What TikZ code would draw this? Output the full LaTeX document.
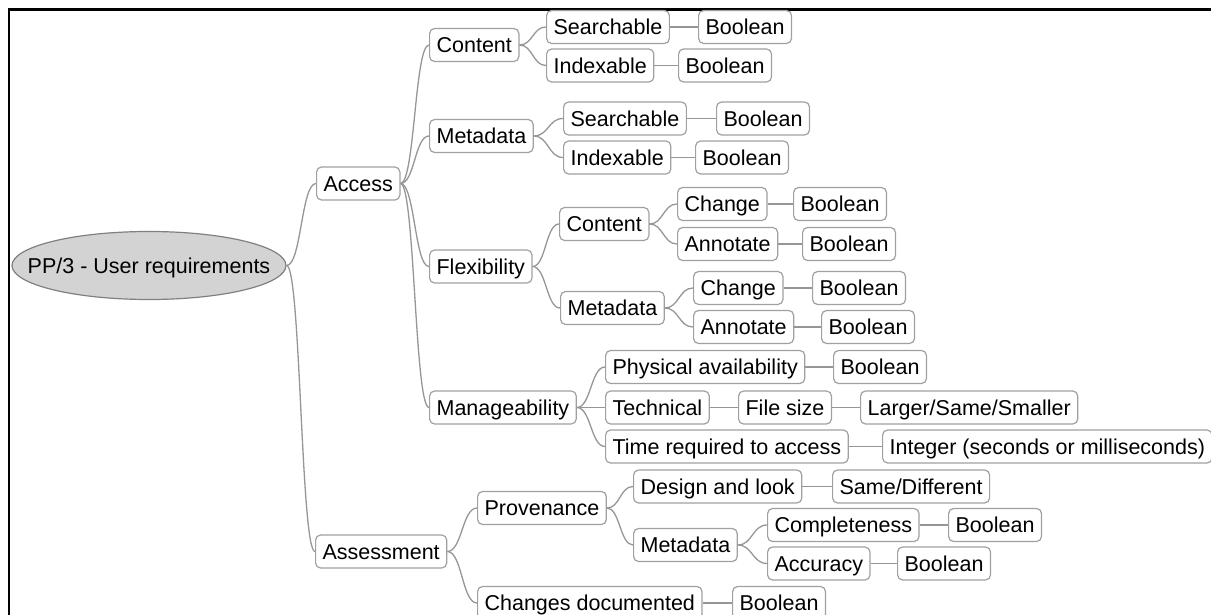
\documentclass[tikz,border=0pt]{standalone}
\usepackage{fontspec}
\setmainfont{Liberation Sans}
\usetikzlibrary{calc,shapes.geometric}
\definecolor{edgegray}{RGB}{150,150,150}
\definecolor{boxgray}{RGB}{160,160,160}
\definecolor{rootfill}{RGB}{211,211,211}
\begin{document}
\begin{tikzpicture}[x=1pt,y=-1pt,
  mm/.style={draw=boxgray,line width=1.2pt,fill=white,rounded corners=5pt,
    anchor=west,inner xsep=7pt,inner ysep=0pt,minimum height=33pt,
    text height=15.5pt,text depth=0pt,font=\fontsize{21.5}{24}\selectfont},
  rootnode/.style={ellipse,draw=gray,line width=1.2pt,fill=rootfill,
    minimum width=274pt,minimum height=68pt,inner sep=0pt},
  rootlabel/.style={inner sep=0pt,text height=15.5pt,text depth=0pt,
    font=\fontsize{21.5}{24}\selectfont},
  link/.style={draw=edgegray,line width=1.3pt},
  frame/.style={line width=2.4pt,black}]
\useasboundingbox (0,0) rectangle (1211,615);
\newcommand\mmlink[2]{\draw[link] let \p1=(#1.east), \p2=(#2.west) in
  (\p1) .. controls ({0.5*\x1+0.5*\x2},\y1) and ({0.5*\x1+0.5*\x2},\y2) .. (\p2);}
\newcommand\mmline[2]{\draw[link] (#1.east) -- (#2.west);}

% frame
\coordinate (fa) at (9,615);
\coordinate (fb) at (9,9.5);
\coordinate (fc) at (1211,9.5);
\draw[frame] (fa) -- (fb) -- (fc);

% nodes
\node[rootnode] (root) at (149,265.5) {};
\node[rootlabel] (rootlbl) at (root.center) {PP/3 - User requirements};
\node[mm] (access) at (316,183.5) {Access};
\node[mm] (assess) at (315,551.5) {Assessment};

\node[mm] (acont) at (429,45) {Content};
\node[mm] (ameta) at (429,136) {Metadata};
\node[mm] (aflex) at (429,266.5) {Flexibility};
\node[mm] (amanage) at (429,407.5) {Manageability};

\node[mm] (csearch) at (546,27) {Searchable};
\node[mm] (csearchb) at (698,27) {Boolean};
\node[mm] (cindex) at (546,65.5) {Indexable};
\node[mm] (cindexb) at (678,65.5) {Boolean};

\node[mm] (msearch) at (563,118.5) {Searchable};
\node[mm] (msearchb) at (716,118.5) {Boolean};
\node[mm] (mindex) at (563,157.5) {Indexable};
\node[mm] (mindexb) at (695,157.5) {Boolean};

\node[mm] (fcont) at (559,224) {Content};
\node[mm] (fcchange) at (677,204) {Change};
\node[mm] (fcchangeb) at (793,204) {Boolean};
\node[mm] (fcannot) at (677,244) {Annotate};
\node[mm] (fcannotb) at (802,244) {Boolean};

\node[mm] (fmeta) at (560,308) {Metadata};
\node[mm] (fmchange) at (693,288) {Change};
\node[mm] (fmchangeb) at (812,288) {Boolean};
\node[mm] (fmannot) at (693,327) {Annotate};
\node[mm] (fmannotb) at (821,327) {Boolean};

\node[mm] (phys) at (605,367) {Physical availability};
\node[mm] (physb) at (833,367) {Boolean};
\node[mm] (tech) at (605,407.5) {Technical};
\node[mm] (fsize) at (738,407.5) {File size};
\node[mm] (lss) at (860,407.5) {Larger/Same/Smaller};
\node[mm] (time) at (605,446.5) {Time required to access};
\node[mm] (integer) at (882,446.5) {Integer (seconds or milliseconds)};

\node[mm] (prov) at (477,508) {Provenance};
\node[mm] (design) at (633,486.5) {Design and look};
\node[mm] (samediff) at (832,486.5) {Same/Different};
\node[mm] (pmeta) at (633,545) {Metadata};
\node[mm] (complete) at (767,525) {Completeness};
\node[mm] (completeb) at (948,525) {Boolean};
\node[mm] (accuracy) at (767,563.5) {Accuracy};
\node[mm] (accuracyb) at (897,563.5) {Boolean};
\node[mm] (changes) at (477,603) {Changes documented};
\node[mm] (changesb) at (732,603) {Boolean};

% connectors
\mmlink{root}{access}
\mmlink{root}{assess}
\mmlink{access}{acont}
\mmlink{access}{ameta}
\mmlink{access}{aflex}
\mmlink{access}{amanage}
\mmlink{acont}{csearch}
\mmlink{acont}{cindex}
\mmline{csearch}{csearchb}
\mmline{cindex}{cindexb}
\mmlink{ameta}{msearch}
\mmlink{ameta}{mindex}
\mmline{msearch}{msearchb}
\mmline{mindex}{mindexb}
\mmlink{aflex}{fcont}
\mmlink{aflex}{fmeta}
\mmlink{fcont}{fcchange}
\mmlink{fcont}{fcannot}
\mmline{fcchange}{fcchangeb}
\mmline{fcannot}{fcannotb}
\mmlink{fmeta}{fmchange}
\mmlink{fmeta}{fmannot}
\mmline{fmchange}{fmchangeb}
\mmline{fmannot}{fmannotb}
\mmlink{amanage}{phys}
\mmline{amanage}{tech}
\mmlink{amanage}{time}
\mmline{phys}{physb}
\mmline{tech}{fsize}
\mmline{fsize}{lss}
\mmline{time}{integer}
\mmlink{assess}{prov}
\mmlink{assess}{changes}
\mmlink{prov}{design}
\mmlink{prov}{pmeta}
\mmline{design}{samediff}
\mmlink{pmeta}{complete}
\mmlink{pmeta}{accuracy}
\mmline{complete}{completeb}
\mmline{accuracy}{accuracyb}
\mmline{changes}{changesb}
\end{tikzpicture}
\end{document}
